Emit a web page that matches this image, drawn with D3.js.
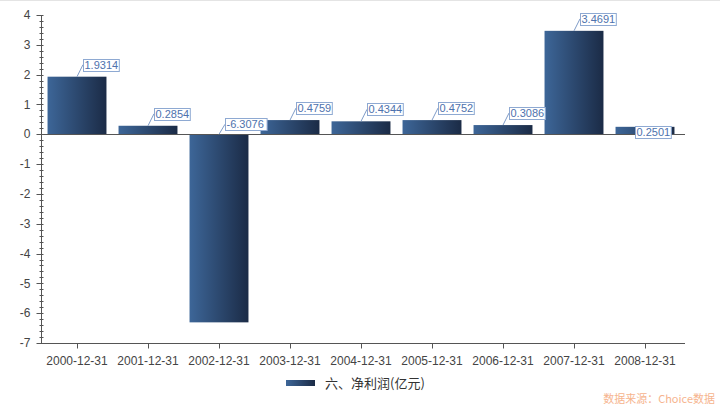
<!DOCTYPE html>
<html><head><meta charset="utf-8">
<script src="https://cdn.jsdelivr.net/npm/d3@7"></script>
<style>body{margin:0;background:#fff}svg{display:block}</style>
</head><body>
<svg id="c" width="720" height="407"></svg>
<script>
const categories = ["2000-12-31","2001-12-31","2002-12-31","2003-12-31","2004-12-31","2005-12-31","2006-12-31","2007-12-31","2008-12-31"];
const netProfit = [1.9314,0.2854,-6.3076,0.4759,0.4344,0.4752,0.3086,3.4691,0.2501];
const yTicks = [4,3,2,1,0,-1,-2,-3,-4,-5,-6,-7];
const seriesName = "六、净利润(亿元)";
const sourceText = "数据来源：Choice数据";

const svg = d3.select("#c");
const font = "'Liberation Sans', Arial, sans-serif";
const cjk = "'Noto Sans CJK SC', 'Liberation Sans', sans-serif";

const defs = svg.append("defs");
const g = defs.append("linearGradient").attr("id","barGrad").attr("x1","0").attr("x2","1").attr("y1","0").attr("y2","0");
g.append("stop").attr("offset","0%").attr("stop-color","#3d6698");
g.append("stop").attr("offset","100%").attr("stop-color","#1b2b46");

// top faint border
svg.append("line").attr("x1",0).attr("x2",720).attr("y1",0.5).attr("y2",0.5).attr("stroke","#e4e4e4");

const x = d3.scaleBand().domain(categories).range([41.5, 680.5]).paddingInner(0.17).paddingOuter(0.085);
const y = d3.scaleLinear().domain([-7,4]).range([343,15]);

// bars
svg.append("g").selectAll("rect").data(netProfit).join("rect")
  .attr("x",(d,i)=>x(categories[i]))
  .attr("width",x.bandwidth())
  .attr("y",d=>y(Math.max(d,0)))
  .attr("height",d=>Math.abs(y(d)-y(0)))
  .attr("fill","url(#barGrad)");

// zero line
svg.append("line").attr("x1",41.5).attr("x2",685).attr("y1",Math.round(y(0))+0.5).attr("y2",Math.round(y(0))+0.5)
  .attr("stroke","#555").attr("stroke-width",1);

// y axis
const yAxis = svg.append("g").attr("transform","translate(41.5,0)");
yAxis.append("line").attr("y1",y(4)).attr("y2",y(-7)).attr("stroke","#555");
const minor = d3.range(-7,4.001,0.2).filter(v=>Math.abs(v-Math.round(v))>1e-6);
yAxis.selectAll(".mn").data(minor).join("line").attr("class","mn")
  .attr("x1",-2).attr("x2",2).attr("y1",d=>Math.round(y(d))+0.5).attr("y2",d=>Math.round(y(d))+0.5)
  .attr("stroke","#555");
yAxis.selectAll(".mj").data(yTicks).join("line").attr("class","mj")
  .attr("x1",-5).attr("x2",2).attr("y1",d=>Math.round(y(d))+0.5).attr("y2",d=>Math.round(y(d))+0.5)
  .attr("stroke","#555");
yAxis.selectAll("text").data(yTicks).join("text")
  .attr("x",-11).attr("y",d=>y(d)).attr("dy","0.35em")
  .attr("text-anchor","end").attr("font-family",font).attr("font-size",12).attr("fill","#444")
  .text(d=>d);

// x axis
const xAxis = svg.append("g").attr("transform","translate(0,343.5)");
xAxis.append("line").attr("x1",41.5).attr("x2",685).attr("stroke","#555");
xAxis.selectAll("line.t").data(categories).join("line").attr("class","t")
  .attr("x1",d=>Math.round(x(d)+x.bandwidth()/2)+0.5).attr("x2",d=>Math.round(x(d)+x.bandwidth()/2)+0.5)
  .attr("y1",0).attr("y2",5).attr("stroke","#555");
xAxis.selectAll("text").data(categories).join("text")
  .attr("x",d=>x(d)+x.bandwidth()/2).attr("y",21)
  .attr("text-anchor","middle").attr("font-family",font).attr("font-size",12).attr("fill","#444")
  .text(d=>d);

// data labels
const lbl = svg.append("g");
netProfit.forEach((v,i)=>{
  const cx = x(categories[i]) + x.bandwidth()/2;
  const ay = y(Math.max(v,0));
  const txt = v.toFixed(4);
  const w = txt.length*5.8 + 1;
  const h = 12;
  let bx, by, lineTo;
  if (i === netProfit.length-1) {
    bx = cx - 10; by = ay - 1;
    lineTo = null;
  } else {
    bx = cx + 6; by = ay - 6 - h - (v<0 ? -2 : 0);
    lineTo = [bx, by + h/2];
  }
  if (lineTo) lbl.append("line").attr("x1",cx).attr("y1",ay).attr("x2",lineTo[0]).attr("y2",lineTo[1])
    .attr("stroke","#7f9cc8").attr("stroke-width",1);
  lbl.append("rect").attr("x",Math.round(bx)+0.5).attr("y",Math.round(by)+0.5).attr("width",w).attr("height",h)
    .attr("fill","#fff").attr("stroke","#8ea9d2");
  lbl.append("text").attr("x",Math.round(bx)+1.5).attr("y",Math.round(by)+h/2+0.5).attr("dy","0.36em")
    .attr("font-family",font).attr("font-size",11).attr("fill","#4e72ad").text(txt);
});

// legend
const leg = svg.append("g");
leg.append("rect").attr("x",286).attr("y",380).attr("width",29).attr("height",6).attr("fill","url(#barGrad)");
leg.append("text").attr("x",325).attr("y",383).attr("dy","0.36em").attr("font-family",cjk).attr("font-size",13)
  .attr("fill","#333").text(seriesName);

// source watermark
svg.append("text").attr("x",715).attr("y",403).attr("text-anchor","end").attr("font-family",cjk).attr("font-size",11)
  .attr("fill","#f6b48e").text(sourceText);
</script>
</body></html>
